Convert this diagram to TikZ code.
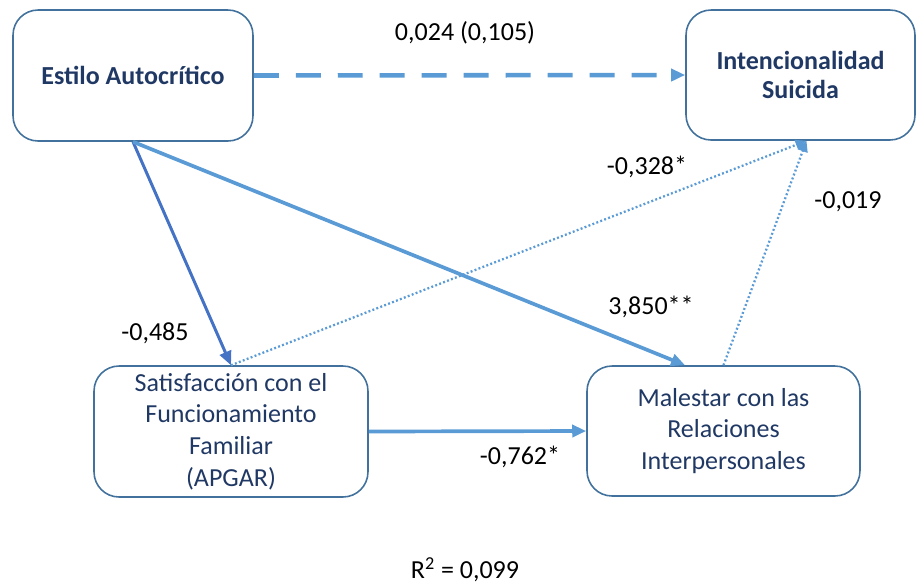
\documentclass[tikz,border=0pt]{standalone}
\usepackage{fontspec}
\setmainfont{Carlito}
\usetikzlibrary{arrows.meta,calc}
\definecolor{pathblue}{HTML}{5B9BD5}
\definecolor{darkpath}{HTML}{4472C4}
\definecolor{boxline}{HTML}{41719C}
\definecolor{boxtext}{HTML}{203864}
\tikzset{
  varbox/.style={draw=boxline, line width=0.9pt, rounded corners=0.5cm, text=boxtext, align=center, inner sep=0pt, font=\fontsize{14.8pt}{18pt}\selectfont},
  varboxbold/.style={varbox, font=\fontsize{14.8pt}{17pt}\selectfont\bfseries},
  coef/.style={font=\fontsize{14.8pt}{18pt}\selectfont},
  pathtip/.style={-{Triangle[length=0.28cm,width=0.24cm]}},
  dotpath/.style={pathblue, line width=1.3pt, dash pattern=on 1.1pt off 1.3pt, -{Triangle[length=0.22cm,width=0.2cm]}}
}

\begin{document}
\begin{tikzpicture}[x=0.02cm,y=-0.02cm]
		\useasboundingbox (0,0) rectangle (917,583);
		%%%%% BOXES %%%%%
		\node[varboxbold, minimum width=4.8cm, minimum height=2.62cm] (estilo) at (133,75.5) {Estilo Autocrítico};
		\node[varboxbold, minimum width=4.58cm, minimum height=2.6cm] (intenc) at (800.5,75) {Intencionalidad\\Suicida};
		\node[varbox, minimum width=5.48cm, minimum height=2.62cm] (satisf) at (231,431.5) {Satisfacción con el\\Funcionamiento\\Familiar\\(APGAR)};
		\node[varbox, minimum width=5.46cm, minimum height=2.6cm] (malestar) at (723.5,431) {Malestar con las\\Relaciones\\Interpersonales};
		
		\coordinate (meet) at ($(intenc.south)+(6,0)$);
		\coordinate (malin) at ($(malestar.north west)!0.36!(malestar.north east)$);
		
		%%%%% PATHS %%%%%
		\draw[pathblue, line width=2.6pt, dash pattern=on 0.5cm off 0.34cm, pathtip] (estilo.east) -- (intenc.west);
		\draw[darkpath, line width=1.7pt, pathtip] (estilo.south) -- (satisf.north);
		\draw[pathblue, line width=2.1pt, pathtip] (estilo.south) -- (malin);
		\draw[pathblue, line width=2.1pt, pathtip] (satisf.east) -- (malestar.west);
		\draw[dotpath] (satisf.north) -- (meet);
		\draw[dotpath] (malestar.north) -- (meet);
		
		%%%%% COEFFICIENTS %%%%%
		\node[coef] (c1) at (465,33) {0,024 (0,105)};
		\node[coef] (c2) at (647,167) {-0,328*};
		\node[coef] (c3) at (848,202) {-0,019};
		\node[coef] (c4) at (651,307) {3,850**};
		\node[coef] (c5) at (155,333) {-0,485};
		\node[coef] (c6) at (520,457) {-0,762*};
		\node[coef] (r2) at (465,570) {R\textsuperscript{2} = 0,099};
\end{tikzpicture}
\end{document}
